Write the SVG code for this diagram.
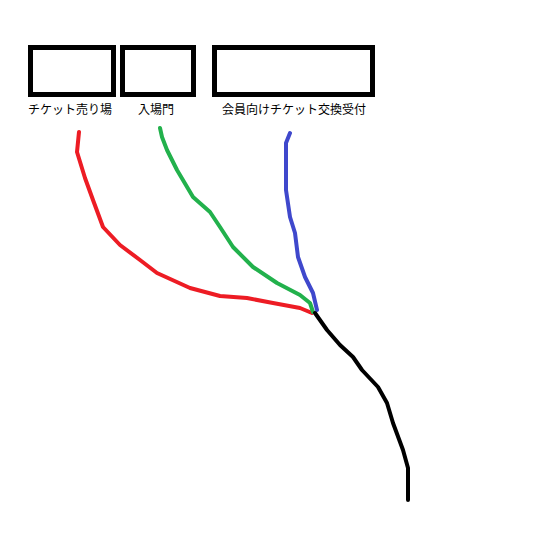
<svg xmlns="http://www.w3.org/2000/svg" width="548" height="535" viewBox="0 0 548 535">
<style>
.box{fill:#fff;stroke:#000;stroke-width:5}
.lbl{font-family:"Noto Sans CJK JP","Noto Sans",sans-serif;font-size:12px;fill:#000}
.wire{fill:none;stroke-width:4;stroke-linejoin:round;stroke-linecap:round}
</style>
<rect width="548" height="535" fill="#fff"/>
<g id="connectors">
<polyline class="wire" stroke="#ED1C24" points="79,132 77,152 85,178 93,200 103,227 120,245 140,260 157,273 190,288 220,296 247,298 273,303 300,308 312,313"/>
<polyline class="wire" stroke="#22B14C" points="160,128 162,137 167,150 177,170 193,197 210,212 220,227 233,247 253,267 277,283 300,295 310,303 313,312"/>
<polyline class="wire" stroke="#3F48CC" points="290,133 286,143 286,190 290,217 295,233 298,257 305,277 313,293 317,310"/>
<polyline class="wire" stroke="#000" points="315,313 327,330 340,345 353,357 362,370 378,387 387,403 393,423 403,450 408,468 408,500"/>
</g>
<g id="ticket-sales">
<rect class="box" x="30.5" y="47.5" width="83" height="47"/>
<text class="lbl" x="28" y="114">チケット売り場</text>
</g>
<g id="entrance-gate">
<rect class="box" x="122.5" y="47.5" width="71" height="47"/>
<text class="lbl" x="138" y="114">入場門</text>
</g>
<g id="member-exchange">
<rect class="box" x="214.5" y="47.5" width="158" height="47"/>
<text class="lbl" x="222" y="114">会員向けチケット交換受付</text>
</g>
</svg>
